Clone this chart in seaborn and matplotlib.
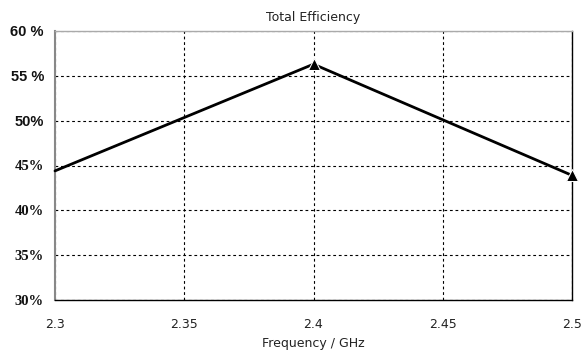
import matplotlib
matplotlib.use("Agg")
import matplotlib.pyplot as plt
import seaborn as sns
import pandas as pd
import numpy as np

freq = [2.3, 2.4, 2.5]
efficiency = [44.4, 56.3, 43.9]
x_ticks = [2.3, 2.35, 2.4, 2.45, 2.5]
x_labels = ["2.3", "2.35", "2.4", "2.45", "2.5"]
y_ticks = [30, 35, 40, 45, 50, 55, 60]
y_labels = ["30%", "35%", "40%", "45%", "50%", "55 %", "60 %"]

sns.set_style("white")
plt.rcParams['font.family'] = ['DejaVu Sans']

df = pd.DataFrame({"freq": freq, "eff": efficiency})

fig = plt.figure(figsize=(5.82, 3.51), dpi=100)
ax = fig.add_axes([55/582, 1 - 300/351, (572-55)/582, (300-31)/351])

sns.lineplot(data=df, x="freq", y="eff", ax=ax, color="black", linewidth=2,
             marker="^", markersize=8, markevery=[1, 2], clip_on=False, zorder=5)

ax.set_xlim(2.3, 2.5)
ax.set_ylim(30, 60)
ax.set_xticks(x_ticks)
ax.set_xticklabels(x_labels, fontsize=9, color="#222222")
ax.set_yticks(y_ticks)
ax.set_yticklabels(y_labels)
for lab, t in zip(ax.get_yticklabels(), y_labels):
    if t in ("50%", "55 %", "60 %"):
        lab.set_fontfamily(["Liberation Sans", "DejaVu Sans"])
    else:
        lab.set_fontfamily(["Liberation Serif", "DejaVu Serif"])
    lab.set_fontweight("bold")
    lab.set_fontsize(10.5)
    lab.set_color("#111111")

ax.grid(True, color="black", linestyle=(0, (2.5, 2.5)), linewidth=0.8)
ax.tick_params(axis="x", direction="out", length=4, width=1, color="black", pad=9)
ax.tick_params(axis="y", direction="out", length=4, width=1, color="black", pad=4)

ax.spines["left"].set_color("#888888")
ax.spines["left"].set_linewidth(1.5)
ax.spines["top"].set_color("#aaaaaa")
ax.spines["top"].set_linewidth(1)
ax.spines["bottom"].set_color("black")
ax.spines["bottom"].set_linewidth(1)
ax.spines["right"].set_color("black")
ax.spines["right"].set_linewidth(1)

ax.set_title("Total Efficiency", fontsize=9, pad=7, color="#222222")
ax.set_xlabel("Frequency / GHz", fontsize=9, color="#222222", labelpad=4)
ax.set_ylabel("")

fig.savefig("out.png", dpi=100)
